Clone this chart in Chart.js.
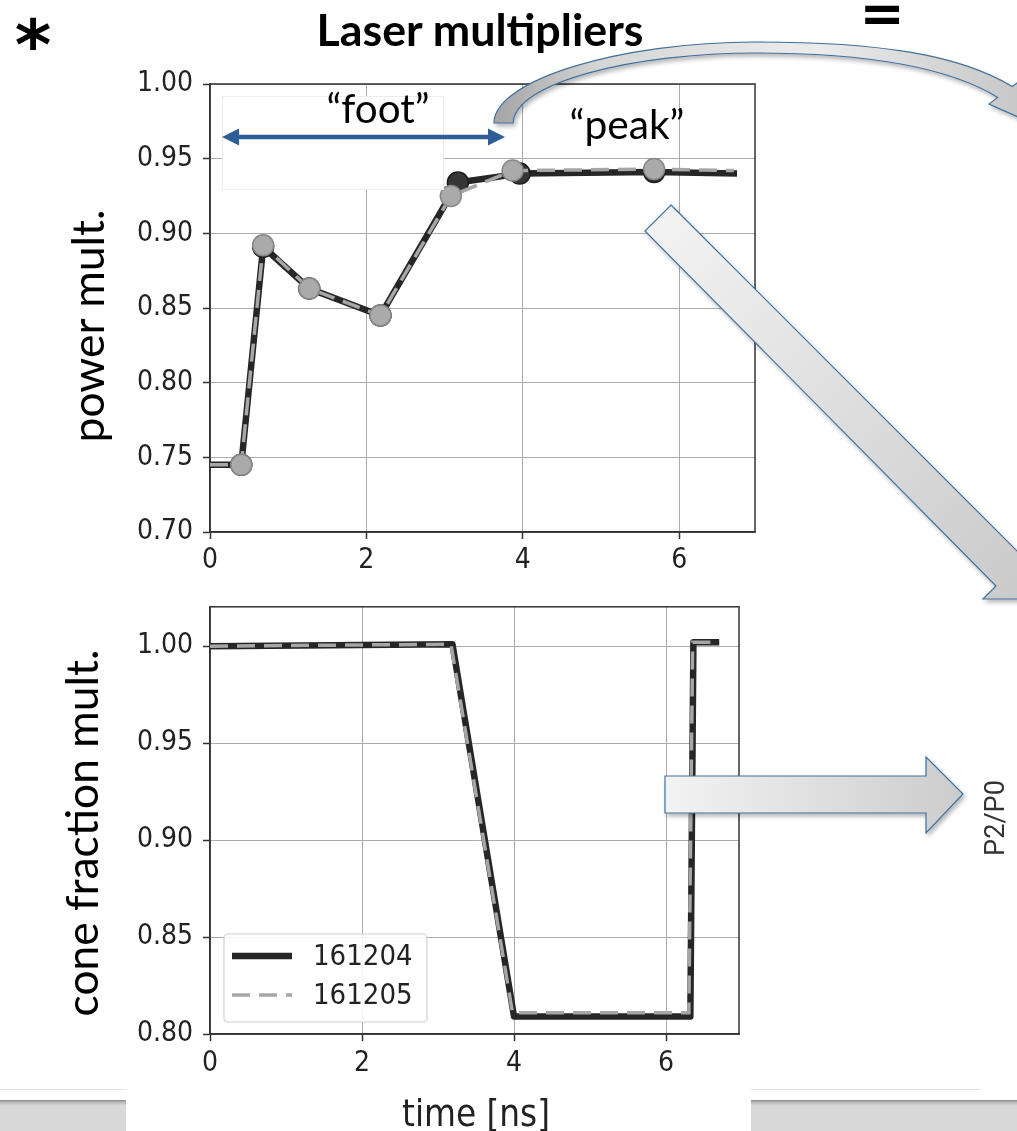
<!DOCTYPE html>
<html><head><meta charset="utf-8">
<script src="https://cdn.jsdelivr.net/npm/chart.js@4.4.1/dist/chart.umd.min.js"></script>
<style>
html,body{margin:0;padding:0;background:#fff;}
#page{position:relative;width:1017px;height:1131px;overflow:hidden;background:#fff;}
.abs{position:absolute;}
canvas{position:absolute;}
.lbl{position:absolute;white-space:nowrap;line-height:1;z-index:5;}
</style></head><body>
<div id="page">
  <div class="abs" style="left:0;top:1089px;width:126px;height:1px;background:#e2e2e2"></div>
  <div class="abs" style="left:0;top:1100px;width:126px;height:31px;background:linear-gradient(#8a8a8a 0px,#c4c4c4 3px,#d8d8d8 6px)"></div>
  <div class="abs" style="left:751px;top:1089px;width:229px;height:1px;background:#e2e2e2"></div>
  <div class="abs" style="left:751px;top:1100px;width:266px;height:31px;background:linear-gradient(#8a8a8a 0px,#c4c4c4 3px,#d8d8d8 6px)"></div>
  <canvas id="c1" width="1017" height="580" style="left:0;top:0;z-index:1"></canvas>
  <canvas id="c2" width="1017" height="551" style="left:0;top:580px;z-index:1"></canvas>
  <div class="abs" style="left:222px;top:96px;width:222px;height:94px;background:#fff;border:1px solid #ececec;box-sizing:border-box;z-index:2"></div>
  <svg class="abs" width="1017" height="1131" style="left:0;top:0;z-index:3;pointer-events:none">
    <defs>
      <linearGradient id="gArc" x1="0" y1="0" x2="1" y2="0">
        <stop offset="0" stop-color="#a4a4a4"/><stop offset="0.2" stop-color="#d6d6d6"/>
        <stop offset="0.6" stop-color="#ececec"/><stop offset="1" stop-color="#c6c6c6"/>
      </linearGradient>
      <linearGradient id="gDiag" x1="0" y1="0" x2="1" y2="1">
        <stop offset="0" stop-color="#f4f4f4"/><stop offset="1" stop-color="#c9c9c9"/>
      </linearGradient>
      <linearGradient id="gH" x1="0" y1="0" x2="1" y2="0">
        <stop offset="0" stop-color="#f3f3f3"/><stop offset="1" stop-color="#cccccc"/>
      </linearGradient>
      <filter id="sh" x="-10%" y="-10%" width="130%" height="130%">
        <feDropShadow dx="2" dy="3" stdDeviation="2" flood-color="#000" flood-opacity="0.28"/>
      </filter>
    </defs>
    <path d="M494 123 C494 80 620 42 756 42 C880 42 960 55 1012.2 86.6 L1021 80 L1026.6 120.8 L989 104 L997.8 97.4 C950 68 870 53 756 53 C635 53 515 82 513 123 Z"
          fill="url(#gArc)" stroke="#41719c" stroke-width="1.2" filter="url(#sh)"/>
    <path d="M671 205 L1024 558 L1037 545 L1037 599 L983 599 L996 586 L645 231 Z"
          fill="url(#gDiag)" stroke="#41719c" stroke-width="1.2" filter="url(#sh)"/>
    <path d="M665 776 L926 776 L926 757 L963 794 L926 833 L926 813 L665 813 Z"
          fill="url(#gH)" stroke="#41719c" stroke-width="1.2" filter="url(#sh)"/>
    <line x1="236" y1="137" x2="491" y2="137" stroke="#2f5d95" stroke-width="4.5"/>
    <path d="M222 137 L239 128.5 L239 145.5 Z" fill="#2f5d95"/>
    <path d="M505 137 L488 128.5 L488 145.5 Z" fill="#2f5d95"/>
  </svg>
</div>
<script>
// ---------------- data ----------------
const TIME_TICKS  = [0, 2, 4, 6];
const POWER_TICKS = [0.70, 0.75, 0.80, 0.85, 0.90, 0.95, 1.00];
const CONE_TICKS  = [0.80, 0.85, 0.90, 0.95, 1.00];
const SHOTS = ['161204', '161205'];

const POWER_T_161204 = [0, 0.40, 0.68, 1.27, 2.18, 3.17, 3.96, 5.68, 6.74];
const POWER_V_161204 = [0.745, 0.745, 0.891, 0.863, 0.845, 0.934, 0.940, 0.941, 0.940];
const POWER_T_161205 = [0, 0.40, 0.68, 1.27, 2.18, 3.08, 3.87, 5.68, 6.70];
const POWER_V_161205 = [0.745, 0.745, 0.892, 0.863, 0.845, 0.925, 0.942, 0.943, 0.942];

const CONE_T_161204 = [0, 3.19, 4.00, 6.32, 6.36, 6.70];
const CONE_V_161204 = [1.000, 1.001, 0.809, 0.809, 1.002, 1.002];
const CONE_T_161205 = [0, 3.17, 3.98, 6.30, 6.35, 6.70];
const CONE_V_161205 = [1.000, 1.001, 0.811, 0.811, 1.002, 1.002];

const POWER_X_RANGE = [0, 6.97];
const POWER_Y_RANGE = [0.70, 1.00];
const CONE_X_RANGE  = [0, 6.96];
const CONE_Y_RANGE  = [0.80, 1.0203];

// ---------------- styles ----------------
const FONT_FAMILY = '"DejaVu Sans Condensed", "DejaVu Sans"';
const TICK_FONT = {family: FONT_FAMILY, size: 28};
const DARK = {borderColor: '#262626', borderWidth: 6.5, borderJoinStyle: 'round',
  pointBackgroundColor: '#363636', pointBorderColor: '#1c1c1c', pointBorderWidth: 1.5, order: 2};
const GRAY = {borderColor: '#a6a6a6', borderWidth: 3.5, borderDash: [18, 9],
  pointBackgroundColor: '#aaaaaa', pointBorderColor: '#888888', pointBorderWidth: 1.5, order: 1};

function ds(label, ts, vs, style, markers) {
  return Object.assign({
    label, showLine: true, tension: 0,
    data: ts.map((t, i) => ({x: t, y: vs[i]})),
    pointRadius: markers ? (c => (c.dataIndex === 0 || c.dataIndex === ts.length - 1) ? 0 : 10.5) : 0,
    pointHoverRadius: 0
  }, style);
}

function scales(xr, yr, yTicks, xAxisH, xPad) {
  const grid = {color: '#ababab', lineWidth: 1, tickLength: 7, tickColor: '#333', tickWidth: 1.5};
  const border = {display: true, color: '#333', width: 1.5};
  return {
    x: {type: 'linear', min: xr[0], max: xr[1],
      afterBuildTicks: s => { s.ticks = TIME_TICKS.map(v => ({value: v})); },
      afterFit: s => { s.height = xAxisH; },
      ticks: {font: TICK_FONT, color: '#222', padding: xPad, maxRotation: 0, autoSkip: false,
        callback: v => String(v)},
      grid, border},
    y: {type: 'linear', min: yr[0], max: yr[1],
      afterBuildTicks: s => { s.ticks = yTicks.map(v => ({value: v})); },
      afterFit: s => { s.width = 210; },
      ticks: {font: TICK_FONT, color: '#222', padding: 10, autoSkip: false,
        callback: v => Number(v).toFixed(2)},
      grid, border}
  };
}

const framePlugin = {
  id: 'frame',
  beforeDatasetsDraw(chart) {
    const {ctx, chartArea: a} = chart;
    ctx.save(); ctx.strokeStyle = '#333'; ctx.lineWidth = 1.5;
    ctx.strokeRect(a.left, a.top, a.right - a.left, a.bottom - a.top);
    ctx.restore();
  }
};

const boxLegend = {
  id: 'boxLegend',
  afterDatasetsDraw(chart, args, o) {
    if (!o || !o.show) return;
    const {ctx, chartArea: a} = chart;
    const x0 = a.left + o.dx, y0 = a.bottom - o.dy, w = o.w, h = o.h;
    ctx.save();
    ctx.fillStyle = 'rgba(255,255,255,0.85)'; ctx.strokeStyle = '#d0d0d0'; ctx.lineWidth = 1.2;
    ctx.beginPath(); ctx.roundRect(x0, y0, w, h, 4); ctx.fill(); ctx.stroke();
    chart.data.datasets.forEach((d, i) => {
      const y = y0 + o.first + i * o.gap;
      ctx.strokeStyle = d.borderColor; ctx.lineWidth = d.borderWidth;
      ctx.setLineDash(d.borderDash || []);
      ctx.beginPath(); ctx.moveTo(x0 + 8, y); ctx.lineTo(x0 + 68, y); ctx.stroke();
      ctx.setLineDash([]);
      ctx.fillStyle = '#222'; ctx.font = '29px ' + FONT_FAMILY; ctx.textBaseline = 'middle';
      ctx.fillText(d.label, x0 + 89, y + 1);
    });
    ctx.restore();
  }
};

Chart.defaults.animation = false;

new Chart(document.getElementById('c1'), {
  type: 'scatter',
  data: {datasets: [
    ds(SHOTS[0], POWER_T_161204, POWER_V_161204, DARK, true),
    ds(SHOTS[1], POWER_T_161205, POWER_V_161205, GRAY, true)
  ]},
  options: {
    responsive: false, events: [],
    layout: {padding: {top: 84, right: 262, left: 0, bottom: 0}},
    scales: scales(POWER_X_RANGE, POWER_Y_RANGE, POWER_TICKS, 48, 5),
    plugins: {legend: {display: false}, tooltip: {enabled: false}}
  },
  plugins: [framePlugin]
});

new Chart(document.getElementById('c2'), {
  type: 'scatter',
  data: {datasets: [
    ds(SHOTS[0], CONE_T_161204, CONE_V_161204, DARK, false),
    ds(SHOTS[1], CONE_T_161205, CONE_V_161205, GRAY, false)
  ]},
  options: {
    responsive: false, events: [],
    layout: {padding: {top: 17, right: 278, left: 0, bottom: 0}},
    scales: scales(CONE_X_RANGE, CONE_Y_RANGE, CONE_TICKS, 97, 6),
    plugins: {legend: {display: false}, tooltip: {enabled: false},
      boxLegend: {show: true, dx: 14, dy: 100, w: 203, h: 88, first: 22, gap: 39}}
  },
  plugins: [framePlugin, boxLegend]
});

// ---------------- annotation text ----------------
const page = document.getElementById('page');
function placeText(txt, family, weight, target, cx, cy, rot, color, fixedSize) {
  const el = document.createElement('div');
  el.className = 'lbl';
  el.textContent = txt;
  el.style.fontFamily = family; el.style.fontWeight = weight;
  el.style.color = color || '#000';
  el.style.fontSize = (fixedSize || 100) + 'px';
  page.appendChild(el);
  if (!fixedSize) {
    const w = el.getBoundingClientRect().width;
    el.style.fontSize = (100 * target / w) + 'px';
  }
  el.style.left = cx + 'px'; el.style.top = cy + 'px';
  el.style.transform = 'translate(-50%,-50%)' + (rot ? ' rotate(' + rot + 'deg)' : '');
  return el;
}
placeText('Laser multipliers', 'Lato', 700, 327, 480, 29, 0, '#000');
placeText('*', 'DejaVu Sans', 700, 0, 33, 45, 0, '#000', 70);
placeText('=', 'DejaVu Sans', 700, 0, 882, 14, 0, '#000', 54);
placeText('\u201Cfoot\u201D', 'Lato', 400, 103, 378, 108, 0, '#000');
placeText('\u201Cpeak\u201D', 'Lato', 400, 115, 627, 124, 0, '#000');
placeText('power mult.', 'Lato', 400, 233, 87, 326, -90, '#000');
placeText('cone fraction mult.', 'Lato', 400, 367, 81, 833, -90, '#000');
placeText('P2/P0', 'Roboto', 400, 76, 996, 818, -90, '#333');
placeText('time  [ns]', FONT_FAMILY, 400, 148, 476, 1114, 0, '#222');
</script>
</body></html>
